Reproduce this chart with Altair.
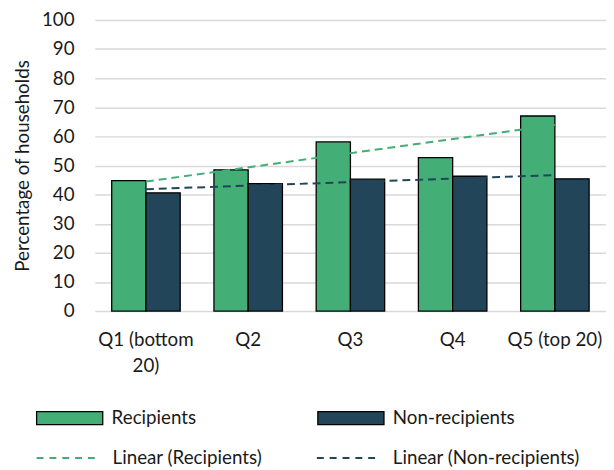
import json
import altair as alt
import pandas as pd

categories = ["Q1 (bottom 20)", "Q2", "Q3", "Q4", "Q5 (top 20)"]
recipients = [44.8, 48.5, 58.1, 52.7, 67.0]
non_recipients = [40.6, 43.8, 45.3, 46.3, 45.4]
series_names = ["Recipients", "Non-recipients"]
series_colors = ["#43AE76", "#22455A"]
y_ticks = [0, 10, 20, 30, 40, 50, 60, 70, 80, 90, 100]

rows = []
for i, c in enumerate(categories):
    rows.append({"cat": c, "idx": i + 1, "series": "Recipients", "value": recipients[i]})
    rows.append({"cat": c, "idx": i + 1, "series": "Non-recipients", "value": non_recipients[i]})
df = pd.DataFrame(rows)

FONT = "Lato"
TXT = "#1a1a1a"
FS = 19
RECT_PATH = "M-1,-0.194H1V0.194H-1Z"

x_enc = alt.X(
    "cat:N",
    sort=categories,
    scale=alt.Scale(domain=categories, paddingInner=0.33, paddingOuter=0.165),
    axis=alt.Axis(
        title=None, domain=False, ticks=False, labelAngle=0, labelPadding=20,
        labelFont=FONT, labelFontSize=FS, labelColor=TXT, labelLineHeight=26,
        labelExpr="datum.value == 'Q1 (bottom 20)' ? ['Q1 (bottom', '20)'] : datum.value",
        grid=False,
    ),
)
y_enc = alt.Y(
    "value:Q",
    scale=alt.Scale(domain=[0, 100], nice=False),
    axis=alt.Axis(
        values=y_ticks, grid=True, gridColor="#D9D9D9", gridWidth=1.5,
        domain=False, ticks=False, labelPadding=21,
        labelFont=FONT, labelFontSize=FS, labelColor=TXT,
        title="Percentage of households", titleFont=FONT, titleFontSize=FS,
        titleFontWeight="normal", titleColor=TXT, titlePadding=9,
    ),
)


def bar_layer(s, color, lx, ly):
    return (
        alt.Chart(df)
        .transform_filter(alt.datum.series == s)
        .mark_bar(stroke="black", strokeWidth=1.3)
        .encode(
            x=x_enc,
            xOffset=alt.XOffset("series:N", scale=alt.Scale(domain=series_names, paddingInner=0, paddingOuter=0)),
            y=y_enc,
            fill=alt.Fill(
                "series:N",
                scale=alt.Scale(domain=[s], range=[color]),
                legend=alt.Legend(
                    orient="none", legendX=lx, legendY=ly, title=None,
                    symbolType=RECT_PATH, symbolSize=4489, symbolStrokeColor="black",
                    symbolStrokeWidth=1.3, symbolOpacity=1, labelOffset=8,
                    labelFont=FONT, labelFontSize=FS, labelColor=TXT, padding=0,
                    labelLimit=400,
                ),
            ),
        )
    )


def trend_layer(s, color, lx, ly):
    lab = "Linear (" + s + ")"
    return (
        alt.Chart(df)
        .transform_filter(alt.datum.series == s)
        .transform_regression("idx", "value")
        .transform_calculate(cat=f"{json.dumps(categories)}[datum.idx - 1]", lab=f"'{lab}'")
        .mark_line(strokeDash=[8, 5], strokeWidth=2)
        .encode(
            x=x_enc,
            y=y_enc,
            stroke=alt.Stroke(
                "lab:N",
                scale=alt.Scale(domain=[lab], range=[color]),
                legend=alt.Legend(
                    orient="none", legendX=lx, legendY=ly, title=None,
                    symbolType="stroke", symbolSize=4096, symbolDash=[7, 6],
                    symbolStrokeWidth=2, labelOffset=12, padding=0,
                    labelFont=FONT, labelFontSize=FS, labelColor=TXT,
                    labelLimit=400,
                ),
            ),
        )
    )


chart = (
    alt.layer(
        bar_layer("Recipients", series_colors[0], -60, 369),
        bar_layer("Non-recipients", series_colors[1], 225, 369),
        trend_layer("Recipients", series_colors[0], -60, 411),
        trend_layer("Non-recipients", series_colors[1], 224, 411),
    )
    .resolve_scale(fill="independent", stroke="independent")
    .properties(
        width=518, height=295,
        autosize=alt.AutoSizeParams(type="none"),
        padding={"left": 88, "top": 9, "right": 0, "bottom": 158},
        background="white",
    )
    .configure_view(stroke=None)
)

chart.save("out.html", embed_options={"renderer": "svg", "actions": False})
